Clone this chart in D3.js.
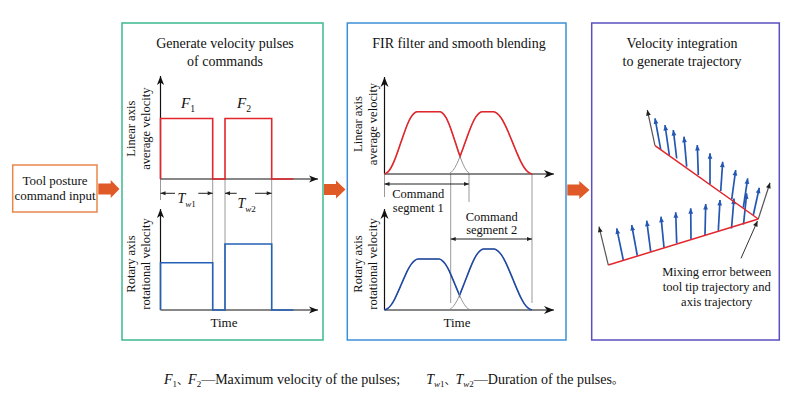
<!DOCTYPE html>
<html>
<head>
<meta charset="utf-8">
<script src="https://cdn.jsdelivr.net/npm/d3@7"></script>
<style>
  body { margin: 0; background: #fff; }
  svg { display: block; }
</style>
</head>
<body>
<svg id="chart" width="800" height="413" font-family="'Liberation Serif', serif"></svg>
<script>
// ---------- data (time / velocity in plot units) ----------
// command velocity pulses
const linearPulses = [{t0: 0, t1: 5.22, v: 6.05}, {t0: 6.45, t1: 11.12, v: 6.05}];
const rotaryPulses = [{t0: 0, t1: 5.22, v: 4.73}, {t0: 6.45, t1: 11.12, v: 6.6}];
const pulseTail = 13.3;
const pulseNames = ["1", "2"];
const pulseLabelT = [2.75, 8.35];
const durationArrows = [
  {sub: "w1", parts: [[0, 1.45], [3.78, 5.22]], labelT: 2.62, labelV: -2.4},
  {sub: "w2", parts: [[6.45, 7.62], [9.45, 11.12]], labelT: 8.62, labelV: -2.9}
];

// FIR smoothed velocity (rise shape + bump corners)
const riseProfile = [[0, 0], [0.1, 0.03], [0.2, 0.1], [0.3, 0.21], [0.4, 0.35], [0.5, 0.5],
  [0.6, 0.65], [0.7, 0.79], [0.8, 0.9], [0.9, 0.97], [1, 1]];
const linearBumps = [{a: 0.0, b: 3.25, c: 5.55, d: 8.65, h: 6.23}, {a: 6.35, b: 9.75, c: 10.9, d: 14.75, h: 6.23}];
const rotaryBumps = [{a: 0.0, b: 3.35, c: 5.45, d: 8.65, h: 5.1}, {a: 6.35, b: 9.9, c: 10.95, d: 14.75, h: 6.1}];
const blendAt = 7.55;
const segments = [
  {lines: ["Command", "segment 1"], t0: 0, t1: 8.45, arrowV: -1.0, labelT: 3.38, labelV: [-2.4, -3.8]},
  {lines: ["Command", "segment 2"], t0: 6.62, t1: 14.75, arrowV: -6.5, labelT: 10.72, labelV: [-4.7, -6.0]}
];

// trajectory (x, y)
const upperPath = [[5.5, 12.43], [15.83, 5.1]];
const lowerPath = [[0.83, 0.5], [15.83, 5.1]];
const axisVectors = [
  [[5.5, 12.43], [4.73, 16.0]],
  [[0.83, 0.5], [-0.1, 4.33]],
  [[15.83, 5.1], [17.0, 8.73]]
];
const upperTool = [
  [[6.07, 12.07], [5.5, 15.17]], [[6.93, 11.5], [6.5, 14.5]], [[7.67, 11.17], [7.33, 14.0]],
  [[8.67, 10.33], [8.4, 13.33]], [[9.83, 9.5], [9.73, 12.5]], [[11.0, 8.6], [11.0, 11.67]],
  [[12.07, 7.9], [12.27, 10.83]], [[13.17, 7.07], [13.57, 10.0]], [[14.33, 6.23], [14.77, 9.17]],
  [[15.33, 5.5], [15.93, 8.23]]
];
const lowerTool = [
  [[2.33, 1.0], [1.67, 4.17]], [[3.73, 1.43], [3.17, 4.5]], [[5.07, 1.83], [4.67, 4.93]],
  [[6.4, 2.23], [6.1, 5.33]], [[7.67, 2.67], [7.57, 5.77]], [[9.1, 3.1], [9.07, 6.17]],
  [[10.5, 3.5], [10.57, 6.6]], [[11.83, 3.93], [12.0, 7.0]], [[13.15, 4.15], [13.4, 7.15]],
  [[14.35, 4.55], [14.67, 7.67]]
];
const errorPointer = [[14.1, 1.17], [15.75, 4.9]];
const errorNote = ["Mixing error between", "tool tip trajectory and", "axis trajectory"];

// ---------- drawing ----------
const SERIF = "'Liberation Serif', serif";
const RED = "#e3262b", BLUE_L = "#2360b5", BLUE_M = "#1f49a3", BLUE_T = "#2457b2", GRAY = "#9a9a9a";
const svg = d3.select("#chart");
const defs = svg.append("defs");

function marker(id, d, fill, orient) {
  defs.append("marker").attr("id", id)
    .attr("viewBox", "-12 -6 14 12").attr("refX", 0).attr("refY", 0)
    .attr("markerWidth", 14).attr("markerHeight", 12)
    .attr("markerUnits", "userSpaceOnUse").attr("orient", orient || "auto")
    .append("path").attr("d", d).attr("fill", fill);
}
marker("axisHead", "M-9,-3.6L0,0L-9,3.6L-6.5,0Z", "#111");
marker("bigHead", "M-10,-4L0,0L-10,4L-7,0Z", "#111");
marker("small", "M-5,-2L0,0L-5,2Z", "#222", "auto-start-reverse");
marker("blueHead", "M-5.5,-2.4L0,0L-5.5,2.4Z", BLUE_T);
marker("blackHead", "M-5.5,-2.4L0,0L-5.5,2.4Z", "#222");

function txt(g, x, y, s, size, anchor) {
  return g.append("text").attr("x", x).attr("y", y).attr("font-size", size || 12)
    .attr("font-family", SERIF)
    .attr("text-anchor", anchor || "middle").attr("fill", "#111").text(s);
}

function italicSub(g, x, y, main, sub, size) {
  const t = g.append("text").attr("x", x).attr("y", y).attr("font-size", size)
    .attr("font-family", SERIF).attr("text-anchor", "middle").attr("fill", "#111");
  t.append("tspan").attr("font-style", "italic").text(main);
  const s = t.append("tspan").attr("font-size", size * 0.65).attr("dy", size * 0.28);
  if (sub.length > 1) {
    s.append("tspan").attr("font-style", "italic").text(sub[0]);
    s.append("tspan").text(sub.slice(1));
  } else s.text(sub);
  return t;
}

function scales(ox, oy) {
  return {
    x: d3.scaleLinear().domain([0, 10]).range([ox, ox + 100]),
    y: d3.scaleLinear().domain([0, 10]).range([oy, oy - 100])
  };
}

function axes(g, s, xMax, yMax, head) {
  g.append("line").attr("x1", s.x(0)).attr("y1", s.y(0)).attr("x2", s.x(xMax)).attr("y2", s.y(0))
    .attr("stroke", "#111").attr("stroke-width", 1.2).attr("marker-end", `url(#${head})`);
  g.append("line").attr("x1", s.x(0)).attr("y1", s.y(0)).attr("x2", s.x(0)).attr("y2", s.y(yMax))
    .attr("stroke", "#111").attr("stroke-width", 1.2).attr("marker-end", `url(#${head})`);
}

function yLabel(g, cx, cy, lines) {
  lines.forEach((l, i) => {
    g.append("text").attr("transform", `translate(${cx + i * 15},${cy}) rotate(-90)`)
      .attr("font-family", SERIF)
      .attr("text-anchor", "middle").attr("font-size", 12.5).attr("fill", "#111").text(l);
  });
}

function vline(g, x, y1, y2) {
  g.append("line").attr("x1", x).attr("x2", x).attr("y1", y1).attr("y2", y2)
    .attr("stroke", GRAY).attr("stroke-width", 1);
}

function orangeArrow(x0, x1, x2, cy) {
  svg.append("path")
    .attr("d", `M${x0},${cy - 5.5}H${x1}V${cy - 9}L${x2},${cy}L${x1},${cy + 9}V${cy + 5.5}H${x0}Z`)
    .attr("fill", "#e05a28");
}

// panels
svg.append("rect").attr("x", 12.7).attr("y", 165).attr("width", 84.3).attr("height", 47)
  .attr("fill", "none").attr("stroke", "#e8874a").attr("stroke-width", 1.5);
txt(svg, 55, 185, "Tool posture", 13);
txt(svg, 55, 200, "command input", 13);

[[122, "#3cb88e"], [347.3, "#3d8fd6"], [591.7, "#5a4fc0"]].forEach(([x, c], i) => {
  const w = [201, 218.7, 187.6][i];
  svg.append("rect").attr("x", x).attr("y", 23).attr("width", w).attr("height", 317)
    .attr("fill", "none").attr("stroke", c).attr("stroke-width", 1.5);
});
orangeArrow(98.3, 110.7, 119.5, 189);
orangeArrow(324, 336, 345.5, 189.5);
orangeArrow(567.3, 579.3, 589.5, 190);

// ---- panel 1: command pulses ----
const p1 = svg.append("g");
txt(p1, 225, 48, "Generate velocity pulses", 14);
txt(p1, 225, 66, "of commands", 14);
const s1u = scales(160.5, 179), s1l = scales(160.5, 310);

[linearPulses[0].t1, linearPulses[1].t0, linearPulses[1].t1].forEach(t => vline(p1, s1u.x(t), s1u.y(0), s1l.y(0)));
vline(p1, s1u.x(0), s1u.y(0), s1u.y(-2.1));
axes(p1, s1u, 15.75, 10.3, "axisHead");
axes(p1, s1l, 15.75, 10.1, "axisHead");

function pulsePoints(pulses) {
  const pts = [[pulses[0].t0, 0]];
  pulses.forEach(p => { pts.push([p.t0, p.v]); pts.push([p.t1, 0]); });
  pts.push([pulseTail, 0]);
  return pts;
}
[[s1u, linearPulses, RED], [s1l, rotaryPulses, BLUE_L]].forEach(([s, data, c]) => {
  const line = d3.line().x(d => s.x(d[0])).y(d => s.y(d[1])).curve(d3.curveStepAfter);
  p1.append("path").attr("d", line(pulsePoints(data))).attr("fill", "none")
    .attr("stroke", c).attr("stroke-width", 1.6);
});
pulseNames.forEach((n, i) => italicSub(p1, s1u.x(pulseLabelT[i]), s1u.y(7.1), "F", n, 15));
durationArrows.forEach(d => {
  d.parts.forEach((pt, j) => {
    p1.append("line").attr("x1", s1u.x(j === 0 ? pt[1] : pt[0])).attr("x2", s1u.x(j === 0 ? pt[0] : pt[1]))
      .attr("y1", s1u.y(-1.43)).attr("y2", s1u.y(-1.43))
      .attr("stroke", "#222").attr("stroke-width", 1).attr("marker-end", "url(#small)");
  });
  italicSub(p1, s1u.x(d.labelT), s1u.y(d.labelV), "T", d.sub, 14);
});
yLabel(p1, 135, 128.7, ["Linear axis", "average velocity"]);
yLabel(p1, 135, 264, ["Rotary axis", "rotational velocity"]);
txt(p1, 224, 327, "Time", 13);

// ---- panel 2: FIR filter and blending ----
const p2 = svg.append("g");
txt(p2, 459, 48, "FIR filter and smooth blending", 14);
const s2u = scales(384.5, 174), s2l = scales(384.5, 310);

vline(p2, s2u.x(segments[1].t0), s2u.y(0), s2l.y(0.7));
vline(p2, s2u.x(segments[1].t1), s2u.y(0), s2l.y(0.7));
vline(p2, s2u.x(segments[0].t1), s2u.y(0), s2u.y(-2.8));
vline(p2, s2u.x(0), s2u.y(0), s2u.y(-2.3));
axes(p2, s2u, 16.95, 9.7, "bigHead");
axes(p2, s2l, 16.95, 10.1, "bigHead");

function bumpPoints(b) {
  const rise = riseProfile.map(([p, q]) => [b.a + p * (b.b - b.a), b.h * q]);
  const fall = riseProfile.map(([p, q]) => [b.c + p * (b.d - b.c), b.h * (1 - q)]);
  return rise.concat(fall);
}
[[s2u, linearBumps, RED, "cu"], [s2l, rotaryBumps, BLUE_M, "cl"]].forEach(([s, bumps, c, id]) => {
  const line = d3.line().x(d => s.x(d[0])).y(d => s.y(d[1])).curve(d3.curveMonotoneX);
  defs.append("clipPath").attr("id", id + "0").append("rect")
    .attr("x", s.x(-1)).attr("width", s.x(blendAt) - s.x(-1)).attr("y", 0).attr("height", 413);
  defs.append("clipPath").attr("id", id + "1").append("rect")
    .attr("x", s.x(blendAt)).attr("width", 300).attr("y", 0).attr("height", 413);
  bumps.forEach((b, i) => {
    const d = line(bumpPoints(b));
    p2.append("path").attr("d", d).attr("fill", "none").attr("stroke", "#8a8a8a").attr("stroke-width", 0.9);
    p2.append("path").attr("d", d).attr("fill", "none").attr("stroke", c).attr("stroke-width", 1.6)
      .attr("clip-path", `url(#${id + i})`);
  });
});
segments.forEach(sg => {
  p2.append("line").attr("x1", s2u.x(sg.t0)).attr("x2", s2u.x(sg.t1))
    .attr("y1", s2u.y(sg.arrowV)).attr("y2", s2u.y(sg.arrowV))
    .attr("stroke", "#222").attr("stroke-width", 1)
    .attr("marker-start", "url(#small)").attr("marker-end", "url(#small)");
  sg.lines.forEach((l, i) => txt(p2, s2u.x(sg.labelT), s2u.y(sg.labelV[i]), l, 12.5));
});
yLabel(p2, 362, 124, ["Linear axis", "average velocity"]);
yLabel(p2, 362, 264, ["Rotary axis", "rotational velocity"]);
txt(p2, 457, 327, "Time", 13);

// ---- panel 3: trajectory ----
const p3 = svg.append("g");
txt(p3, 682, 48, "Velocity integration", 14);
txt(p3, 682, 66, "to generate trajectory", 14);
const tx = d3.scaleLinear().domain([0, 10]).range([600, 700]);
const ty = d3.scaleLinear().domain([0, 10]).range([270, 170]);
const seg = d3.line().x(d => tx(d[0])).y(d => ty(d[1]));

upperTool.concat(lowerTool).forEach(a => {
  p3.append("path").attr("d", seg(a)).attr("stroke", BLUE_T).attr("stroke-width", 1.7)
    .attr("marker-end", "url(#blueHead)");
});
[upperPath, lowerPath].forEach(p => {
  p3.append("path").attr("d", seg(p)).attr("stroke", RED).attr("stroke-width", 1.5).attr("fill", "none");
});
axisVectors.forEach(a => {
  p3.append("path").attr("d", seg(a)).attr("stroke", "#555").attr("stroke-width", 1.2)
    .attr("marker-end", "url(#blackHead)");
});
p3.append("path").attr("d", seg(errorPointer)).attr("stroke", "#333").attr("stroke-width", 1)
  .attr("marker-end", "url(#blackHead)");
errorNote.forEach((l, i) => txt(p3, 716.7, 276 + i * 15, l, 12.5));

// ---- caption ----
const cap = svg.append("text").attr("x", 164).attr("y", 384).attr("font-size", 14)
  .attr("font-family", SERIF).attr("fill", "#111");
function capPart(s, opt) {
  const o = opt || {};
  const t = cap.append("tspan").text(s);
  if (o.i) t.attr("font-style", "italic");
  if (o.small) t.attr("font-size", 9);
  if (o.dy) t.attr("dy", o.dy);
  if (o.dx) t.attr("dx", o.dx);
  if (o.cjk) t.attr("font-family", "'Noto Sans CJK SC', sans-serif").attr("font-size", 11);
  return t;
}
capPart("F", {i: true}); capPart("1", {small: true, dy: 3}); capPart("、", {dy: -3, cjk: true});
capPart("F", {i: true}); capPart("2", {small: true, dy: 3}); capPart("—Maximum velocity of the pulses;", {dy: -3});
capPart("T", {i: true, dx: 26}); capPart("w", {i: true, small: true, dy: 3}); capPart("1", {small: true});
capPart("、", {dy: -3, cjk: true});
capPart("T", {i: true}); capPart("w", {i: true, small: true, dy: 3}); capPart("2", {small: true});
capPart("—Duration of the pulses", {dy: -3}); capPart("。", {cjk: true});
</script>
</body>
</html>
